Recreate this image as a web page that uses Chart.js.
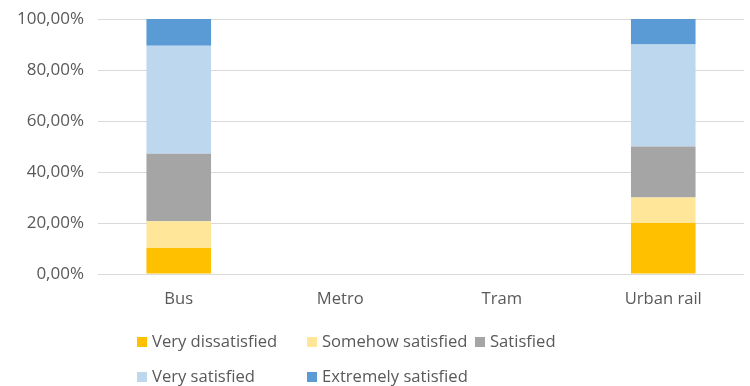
<!DOCTYPE html>
<html lang="en">
<head>
    <meta charset="UTF-8">
    <title>Satisfaction by transport mode</title>
    <script src="https://cdn.jsdelivr.net/npm/chart.js"></script>
    <style>
        html, body { margin: 0; padding: 0; background: #fff; }
        #wrap { width: 750px; height: 386px; }
    </style>
</head>
<body>
    <div id="wrap"><canvas id="satisfactionChart"></canvas></div>

    <script>
        const modes = ['Bus', 'Metro', 'Tram', 'Urban rail'];
        const levels = ['Very dissatisfied', 'Somehow satisfied', 'Satisfied', 'Very satisfied', 'Extremely satisfied'];

        // share of respondents (%) per mode, one array per level
        const veryDissatisfied = [10.2, 0, 0, 20];
        const somehowSatisfied = [10.5, 0, 0, 10];
        const satisfied = [26.5, 0, 0, 20];
        const verySatisfied = [42.3, 0, 0, 40];
        const extremelySatisfied = [10.5, 0, 0, 10];

        const yTicks = [0, 20, 40, 60, 80, 100];

        const levelColors = ['#FFC000', '#FFE699', '#A5A5A5', '#BDD7EE', '#5B9BD5'];
        const seriesValues = [veryDissatisfied, somehowSatisfied, satisfied, verySatisfied, extremelySatisfied];

        const fontFamily = '"Open Sans", sans-serif';
        const textColor = '#595959';

        // legend in two rows, laid out in fixed columns like the office chart
        const gridLegend = {
            id: 'gridLegend',
            afterDraw(chart) {
                const ctx = chart.ctx;
                const cols = [137, 307, 475];
                const rows = [342, 377];
                const slots = [[0, 0], [1, 0], [2, 0], [0, 1], [1, 1]];
                ctx.save();
                ctx.font = '16.6px ' + fontFamily;
                ctx.textBaseline = 'middle';
                chart.data.datasets.forEach((ds, i) => {
                    const x = cols[slots[i][0]];
                    const y = rows[slots[i][1]];
                    ctx.fillStyle = ds.backgroundColor;
                    ctx.fillRect(x, y - 5, 10, 10);
                    ctx.fillStyle = textColor;
                    ctx.fillText(ds.label, x + 15, y);
                });
                ctx.restore();
            }
        };

        new Chart(document.getElementById('satisfactionChart'), {
            type: 'bar',
            data: {
                labels: modes,
                datasets: levels.map((name, i) => ({
                    label: name,
                    data: seriesValues[i],
                    backgroundColor: levelColors[i],
                    borderWidth: 0,
                    categoryPercentage: 1,
                    barPercentage: 0.4
                }))
            },
            options: {
                responsive: true,
                maintainAspectRatio: false,
                animation: false,
                layout: {
                    padding: { top: 19, right: 6, bottom: 70, left: 4 }
                },
                plugins: {
                    legend: { display: false },
                    tooltip: { enabled: false }
                },
                scales: {
                    x: {
                        stacked: true,
                        grid: { display: false },
                        border: { display: false },
                        ticks: { color: textColor, font: { family: fontFamily, size: 16.6 }, padding: 7 }
                    },
                    y: {
                        stacked: true,
                        min: 0,
                        max: 100,
                        afterBuildTicks(axis) {
                            axis.ticks = yTicks.map(v => ({ value: v }));
                        },
                        afterFit(axis) {
                            axis.width = 94;
                            axis.paddingTop = 0;
                            axis.paddingBottom = 0;
                        },
                        grid: { color: '#D9D9D9', lineWidth: 1, drawTicks: false },
                        border: { display: false },
                        ticks: {
                            color: textColor,
                            font: { family: fontFamily, size: 17 },
                            padding: 14,
                            callback: v => v.toFixed(2).replace('.', ',') + '%'
                        }
                    }
                }
            },
            plugins: [gridLegend]
        });
    </script>
</body>
</html>
